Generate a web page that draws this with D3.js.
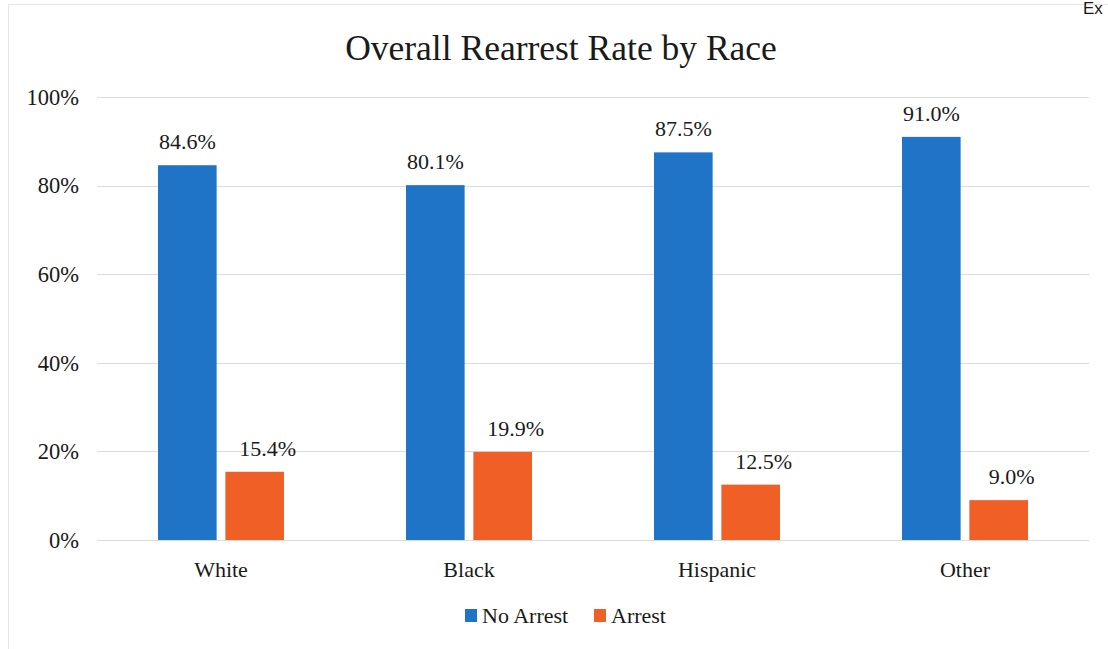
<!DOCTYPE html>
<html>
<head>
<meta charset="utf-8">
<script src="https://cdn.jsdelivr.net/npm/d3@7"></script>
<style>
  html, body { margin: 0; padding: 0; background: #fff; }
  svg { display: block; }
</style>
</head>
<body>
<svg id="chart" width="1108" height="649"></svg>
<script>
// Rearrest outcomes by race (percent of each group)
const categories = ["White", "Black", "Hispanic", "Other"];
const seriesNames = ["No Arrest", "Arrest"];
const noArrest = [84.6, 80.1, 87.5, 91.0];
const arrest = [15.4, 19.9, 12.5, 9.0];
const yTicks = [0, 20, 40, 60, 80, 100];
const colors = ["#1f74c8", "#ef5f26"];

const SERIF = "'Liberation Serif', 'Times New Roman', Times, serif";
const INK = "#1a1a1a";

const svg = d3.select("#chart")
  .attr("font-family", SERIF);
const W = 1108, H = 649;
const plot = { left: 97, right: 1089, top: 97, bottom: 540 };

// faint outer frame of the chart area
svg.append("rect")
  .attr("x", 8.5).attr("y", 4.5)
  .attr("width", W + 20).attr("height", H + 20)
  .attr("fill", "none").attr("stroke", "#e6e6e6").attr("stroke-width", 1);

// cut-off header text at the top right
svg.append("text")
  .attr("x", 1083).attr("y", 14)
  .attr("font-family", "'Liberation Sans', Arial, sans-serif")
  .attr("font-size", 17).attr("fill", INK)
  .text("Ex");

const x0 = d3.scaleBand().domain(categories).range([plot.left, plot.right]);
const x1 = d3.scaleBand().domain(seriesNames).range([0, 126]).paddingInner(0.13);
const groupOffset = (x0.bandwidth() - 126) / 2;
const y = d3.scaleLinear().domain([0, 100]).range([plot.bottom, plot.top]);

// title
svg.append("text")
  .attr("x", 561).attr("y", 60)
  .attr("text-anchor", "middle")
  .attr("font-family", SERIF)
  .attr("font-size", 35.5).attr("fill", INK)
  .text("Overall Rearrest Rate by Race");

// gridlines
svg.append("g").selectAll("line")
  .data(yTicks)
  .join("line")
  .attr("x1", plot.left).attr("x2", plot.right)
  .attr("y1", d => Math.round(y(d)) + 0.5).attr("y2", d => Math.round(y(d)) + 0.5)
  .attr("stroke", "#dcdcdc").attr("stroke-width", 1);

// y axis labels
const yAxis = d3.axisLeft(y).tickValues(yTicks).tickFormat(d => d + "%").tickSize(0).tickPadding(0);
const yg = svg.append("g").attr("transform", `translate(${79},0)`).call(yAxis)
  .attr("font-family", SERIF).attr("font-size", 22.5);
yg.select(".domain").remove();
yg.selectAll("text").attr("fill", INK);

// bars
const rows = categories.map((c, i) => ({ cat: c, values: [noArrest[i], arrest[i]] }));
const groups = svg.append("g").selectAll("g")
  .data(rows)
  .join("g")
  .attr("transform", d => `translate(${x0(d.cat) + groupOffset},0)`);

groups.selectAll("rect")
  .data(d => d.values.map((v, j) => ({ key: seriesNames[j], v, j })))
  .join("rect")
  .attr("x", d => x1(d.key))
  .attr("width", x1.bandwidth())
  .attr("y", d => y(d.v))
  .attr("height", d => y(0) - y(d.v))
  .attr("fill", d => colors[d.j]);

groups.selectAll("text.val")
  .data(d => d.values.map((v, j) => ({ key: seriesNames[j], v, j })))
  .join("text")
  .attr("class", "val")
  .attr("x", d => x1(d.key) + x1.bandwidth() / 2 + (d.j === 1 ? 13 : 0))
  .attr("y", d => y(d.v) - 16)
  .attr("text-anchor", "middle")
  .attr("font-family", SERIF)
  .attr("font-size", 22).attr("fill", INK)
  .text(d => d.v.toFixed(1) + "%");

// category axis
const xAxis = d3.axisBottom(x0).tickSize(0).tickPadding(0);
const xg = svg.append("g").attr("transform", `translate(0,${plot.bottom + 21})`).call(xAxis)
  .attr("font-family", SERIF).attr("font-size", 22);
xg.select(".domain").remove();
xg.selectAll("text").attr("dy", "0.71em").attr("fill", INK);

// legend
const legendPos = [465, 594];
const legend = svg.append("g").selectAll("g")
  .data(seriesNames)
  .join("g")
  .attr("transform", (d, i) => `translate(${legendPos[i]},609)`);
legend.append("rect").attr("width", 12).attr("height", 13).attr("fill", (d, i) => colors[i]);
legend.append("text")
  .attr("x", 17).attr("y", 14)
  .attr("font-family", SERIF)
  .attr("font-size", 22).attr("fill", INK)
  .text(d => d);
</script>
</body>
</html>
